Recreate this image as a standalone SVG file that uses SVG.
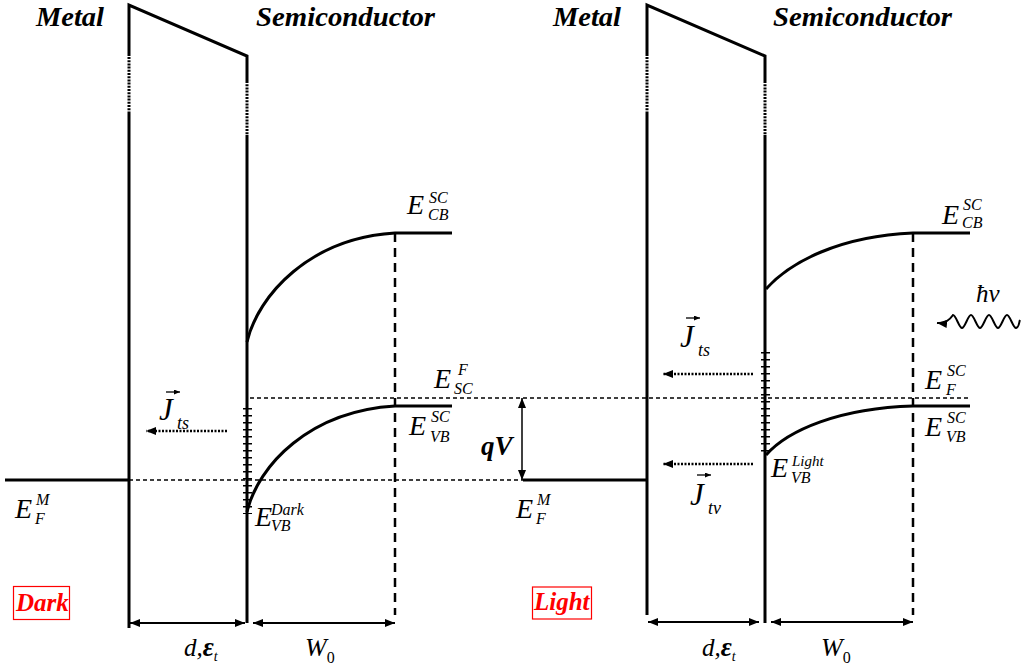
<svg xmlns="http://www.w3.org/2000/svg" width="1021" height="667" viewBox="0 0 1021 667">
<style>
.t{font-family:"Liberation Serif","Times New Roman",serif;fill:#000}
.ti{font-style:italic}
.bi{font-style:italic;font-weight:bold}
.E{font-size:28px}
.s{font-size:16px}
.w{fill:none;stroke:#000;stroke-width:3}
.wd{fill:none;stroke:#000;stroke-width:3;stroke-dasharray:2 1.2}
.band{fill:none;stroke:#000;stroke-width:3}
.hd{fill:none;stroke:#000;stroke-width:1.3;stroke-dasharray:4 3}
.vd{fill:none;stroke:#000;stroke-width:2.5;stroke-dasharray:9 6}
.ss{fill:none;stroke:#000;stroke-width:9;stroke-dasharray:1.5 5.5}
.dim{fill:none;stroke:#000;stroke-width:2;marker-start:url(#ah);marker-end:url(#ah)}
.jr{fill:none;stroke:#000;stroke-width:2.5;stroke-dasharray:2 1.5;marker-end:url(#ah)}
.vec{fill:none;stroke:#000;stroke-width:1.3;marker-end:url(#sh)}
.J{font-size:31px}
.js{font-size:18px}
.red{fill:#f00}
</style>
<defs>
<marker id="ah" viewBox="0 0 10 8" refX="10" refY="4" markerWidth="10" markerHeight="8" markerUnits="userSpaceOnUse" orient="auto-start-reverse"><path d="M0 0L10 4L0 8z" fill="#000"/></marker>
<marker id="sh" viewBox="0 0 6 5" refX="6" refY="2.5" markerWidth="6" markerHeight="5" markerUnits="userSpaceOnUse" orient="auto"><path d="M0 0L6 2.5L0 5z" fill="#000"/></marker>
</defs>

<g id="connectors">
  <path class="w" d="M129 56V5L247 56V81"/>
  <path class="wd" d="M129 57V112"/>
  <path class="w" d="M129 112V628"/>
  <path class="wd" d="M247 81V135"/>
  <path class="w" d="M247 135V623"/>
  <path class="w" d="M5 480H129"/>
  <path class="w" d="M647 56V5L765 56V81"/>
  <path class="wd" d="M647 57V112"/>
  <path class="w" d="M647 112V615"/>
  <path class="wd" d="M765 81V135"/>
  <path class="w" d="M765 135V623"/>
  <path class="w" d="M523 480H647"/>
  <path class="hd" d="M129 480H523"/>
  <path class="hd" d="M250 398H970"/>
  <path class="band" d="M247 342C258 295 310 238 395 233H452"/>
  <path class="band" d="M247 512C258 465 310 411 395 406H452"/>
  <path class="band" d="M766 289C790 262 840 236 913 233H970"/>
  <path class="band" d="M766 455C788 430 840 408 913 406H970"/>
  <path class="vd" d="M395 233V615"/>
  <path class="vd" d="M913 233V615"/>
  <path class="ss" d="M247.5 408V514"/>
  <path class="ss" d="M765.5 352V456"/>
  <path class="dim" d="M130 623H245"/>
  <path class="dim" d="M253 623H395"/>
  <path class="dim" d="M648 622H759"/>
  <path class="dim" d="M771 622H913"/>
  <path class="dim" style="stroke-width:1.5" d="M522 398V480"/>
  <path class="jr" d="M227 431H146"/>
  <path class="jr" d="M753 374H663"/>
  <path class="jr" d="M753 464H663"/>
  <path fill="none" stroke="#000" stroke-width="2" marker-start="url(#ah)" d="M937 323Q947 324 953 315C956 315 959 328 962 328S968 315 971 315S977 328 980 328S986 315 989 315S995 328 998 328S1004 315 1007 315S1013 328 1016 328S1019 322 1020 320"/>
</g>

<g id="titles">
  <text class="t bi" x="36" y="26" font-size="27" textLength="68" lengthAdjust="spacingAndGlyphs">Metal</text>
  <text class="t bi" x="256" y="26" font-size="27" textLength="179" lengthAdjust="spacingAndGlyphs">Semiconductor</text>
  <text class="t bi" x="553" y="26" font-size="27" textLength="68" lengthAdjust="spacingAndGlyphs">Metal</text>
  <text class="t bi" x="773" y="26" font-size="27" textLength="179" lengthAdjust="spacingAndGlyphs">Semiconductor</text>
</g>

<g id="dark-labels">
  <g id="EFM-dark"><text class="t ti E" x="15" y="518">E</text><text class="t ti s" x="36" y="505">M</text><text class="t ti s" x="35" y="524">F</text></g>
  <g id="ECB-dark"><text class="t ti E" x="407" y="214">E</text><text class="t ti s" x="429" y="203">SC</text><text class="t ti s" x="428" y="220">CB</text></g>
  <g id="EF-dark"><text class="t ti E" x="434" y="388">E</text><text class="t ti s" x="458" y="375">F</text><text class="t ti s" x="454" y="394">SC</text></g>
  <g id="EVB-dark"><text class="t ti E" x="409" y="435">E</text><text class="t ti s" x="431" y="422">SC</text><text class="t ti s" x="430" y="442">VB</text></g>
  <g id="EVBD"><text class="t ti E" x="255" y="526">E</text><text class="t ti s" x="271" y="515">Dark</text><text class="t ti s" x="271" y="531">VB</text></g>
  <g id="Jts-dark"><text class="t ti J" x="159" y="420">J</text><text class="t ti js" x="177" y="429">ts</text><path class="vec" d="M166 392H180"/></g>
  <g id="dark-tag"><rect x="13.5" y="586.5" width="56" height="33" fill="none" stroke="#f00" stroke-width="1.2"/><text class="t bi red" font-size="25" x="16" y="611">Dark</text></g>
  <text class="t ti" font-size="25" x="184" y="656">d,<tspan font-weight="bold" font-size="27">ε</tspan><tspan font-size="14" dy="5">t</tspan></text>
  <text class="t ti" font-size="26" x="305" y="656">W<tspan font-style="normal" font-size="16" dy="7">0</tspan></text>
</g>

<g id="qV"><text class="t bi" font-size="27" x="481" y="455">qV</text></g>

<g id="light-labels">
  <g id="EFM-light"><text class="t ti E" x="516" y="518">E</text><text class="t ti s" x="537" y="505">M</text><text class="t ti s" x="536" y="524">F</text></g>
  <g id="ECB-light"><text class="t ti E" x="942" y="224">E</text><text class="t ti s" x="963" y="210">SC</text><text class="t ti s" x="962" y="228">CB</text></g>
  <g id="EF-light"><text class="t ti E" x="925" y="389">E</text><text class="t ti s" x="947" y="376">SC</text><text class="t ti s" x="946" y="395">F</text></g>
  <g id="EVB-light"><text class="t ti E" x="925" y="436">E</text><text class="t ti s" x="947" y="423">SC</text><text class="t ti s" x="946" y="442">VB</text></g>
  <g id="EVBL"><text class="t ti E" x="771" y="477">E</text><text class="t ti" font-size="15" x="792" y="466">Light</text><text class="t ti s" x="791" y="483">VB</text></g>
  <g id="Jts-light"><text class="t ti J" x="680" y="347">J</text><text class="t ti js" x="698" y="356">ts</text><path class="vec" d="M686 318H700"/></g>
  <g id="Jtv-light"><text class="t ti J" x="690" y="505">J</text><text class="t ti js" x="708" y="514">tv</text><path class="vec" d="M697 475H711"/></g>
  <g id="hv"><text class="t ti" font-size="25" x="976" y="302">ħν</text></g>
  <g id="light-tag"><rect x="532.5" y="587" width="59" height="32" fill="none" stroke="#f00" stroke-width="1.2"/><text class="t bi red" font-size="25" x="534" y="610">Light</text></g>
  <text class="t ti" font-size="25" x="702" y="656">d,<tspan font-weight="bold" font-size="27">ε</tspan><tspan font-size="14" dy="5">t</tspan></text>
  <text class="t ti" font-size="26" x="821" y="656">W<tspan font-style="normal" font-size="16" dy="7">0</tspan></text>
</g>
</svg>
